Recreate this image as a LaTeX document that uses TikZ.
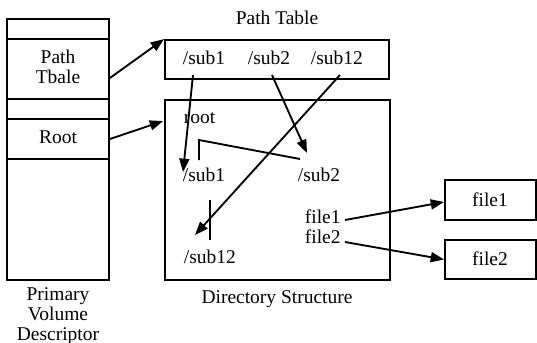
\documentclass[tikz,border=0pt]{standalone}
\usepackage{fontspec}
\setmainfont{Liberation Serif}
\usetikzlibrary{arrows.meta,calc}
\begin{document}
\begin{tikzpicture}[x=0.75pt,y=-0.75pt,line width=1.4pt,
  box/.style={draw,rectangle,inner sep=0pt,minimum width=#1},
  lbl/.style={inner sep=0pt,anchor=base,font=\fontsize{14.6pt}{17pt}\selectfont},
  lblw/.style={inner sep=0pt,anchor=base west,font=\fontsize{14.6pt}{17pt}\selectfont},
  arr/.style={-{Triangle[length=10pt,width=7.5pt]}}]
\useasboundingbox (0,0) rectangle (537,343);
% Primary Volume Descriptor column
\node[box=102*0.75pt,minimum height=15pt] (c1) at (58,29) {};
\node[box=102*0.75pt,minimum height=45pt] (pathcell) at (58,69) {};
\node[box=102*0.75pt,minimum height=15pt] (c3) at (58,109) {};
\node[box=102*0.75pt,minimum height=30pt] (rootcell) at (58,139) {};
\node[box=102*0.75pt,minimum height=90.75pt] (c5) at (58,219.5) {};
\node[lbl] (tpath) at (58,63) {Path};
\node[lbl] (ttbale) at (58,83) {Tbale};
\node[lbl] (troot) at (58,143) {Root};
\node[lbl] (pvd1) at (58,300) {Primary};
\node[lbl] (pvd2) at (58,320) {Volume};
\node[lbl] (pvd3) at (58,340) {Descriptor};
% Path table
\node[lbl] (pttitle) at (277,24) {Path Table};
\node[box=224*0.75pt,minimum height=29.25pt] (ptab) at (277,59.5) {};
\node[lblw] (pt1) at (182,64) {/sub1};
\node[lblw] (pt2) at (247,64) {/sub2};
\node[lblw] (pt12) at (310,64) {/sub12};
% Directory structure
\node[box=225*0.75pt,minimum height=135pt] (dir) at (277.5,190) {};
\node[lbl] (dstitle) at (277,303) {Directory Structure};
\node[lblw] (droot) at (183,123) {root};
\node[lblw] (ds1) at (182,181) {/sub1};
\node[lblw] (ds2) at (297,181) {/sub2};
\node[lblw] (ds12) at (183,263) {/sub12};
\node[lblw] (f1) at (304,223) {file1};
\node[lblw] (f2) at (304,243) {file2};
% file boxes
\node[box=91*0.75pt,minimum height=30pt] (file1) at (490.5,200) {};
\node[box=91*0.75pt,minimum height=29.25pt] (file2) at (490.5,259.5) {};
\node[lbl] (tf1) at (490,206) {file1};
\node[lbl] (tf2) at (490,265) {file2};
% tree lines
\draw ($(ds1.base west)+(17,-21)$) -- ($(ds1.base west)+(17,-41)$) -- ($(ds2.base west)+(3,-22)$);
\draw ($(ds12.base west)+(27,-63)$) -- ($(ds12.base west)+(27,-23)$);
% arrows
\draw[arr] ($(pathcell.east)+(0,9)$) -- (ptab.north west);
\draw[arr] (rootcell.east) -- ($(dir.north west)+(-1,22)$);
\draw[arr] ($(pt1.base west)+(11,11)$) -- ($(ds1.base west)+(1,-9)$);
\draw[arr] ($(pt2.base west)+(25,11)$) -- ($(ds2.base west)+(10,-28)$);
\draw[arr] ($(pt12.base west)+(30,11)$) -- ($(ds12.base west)+(12,-28)$);
\draw[arr] ($(f1.base west)+(41,-3)$) -- ($(file1.west)+(0,2)$);
\draw[arr] ($(f2.base west)+(41,-1)$) -- (file2.west);
\end{tikzpicture}
\end{document}
